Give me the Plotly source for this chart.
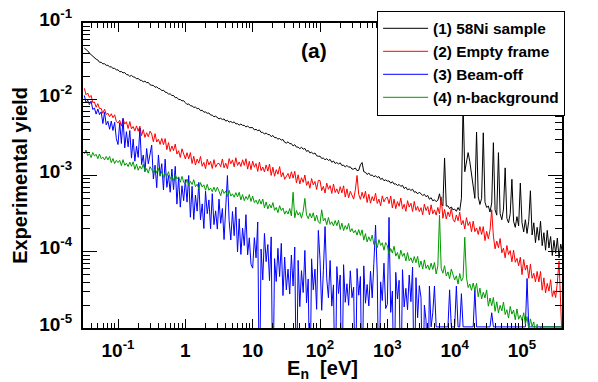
import numpy as np
import plotly.graph_objects as go

# energy bins, log10(E/eV), 0.025 decade wide (285 bins from 10^-1.5 to 10^5.6)
log_e = np.round(np.arange(-1.5, 5.6001, 0.025), 3)

# log10 of the experimental yield, one row per half decade
FLOOR = -4.985  # counts sitting on the 1e-5 axis floor
black_log = [
    -1.33, -1.345, -1.365, -1.395, -1.415, -1.445, -1.455, -1.475, -1.485, -1.515,
    -1.515, -1.535, -1.535, -1.555, -1.555, -1.575, -1.575, -1.595, -1.595, -1.615,
    -1.614, -1.639, -1.637, -1.654, -1.65, -1.677, -1.679, -1.70, -1.687, -1.707,
    -1.71, -1.733, -1.726, -1.75, -1.753, -1.771, -1.763, -1.783, -1.78, -1.809,
    -1.817, -1.819, -1.843, -1.837, -1.858, -1.863, -1.887, -1.881, -1.907, -1.912,
    -1.931, -1.93, -1.951, -1.95, -1.98, -1.977, -2.003, -2.003, -2.021, -2.019,
    -2.045, -2.068, -2.061, -2.085, -2.088, -2.106, -2.103, -2.123, -2.12, -2.149,
    -2.144, -2.169, -2.167, -2.184, -2.18, -2.207, -2.209, -2.23, -2.222, -2.242,
    -2.257, -2.249, -2.267, -2.258, -2.287, -2.276, -2.30, -2.292, -2.307, -2.297,
    -2.323, -2.321, -2.34, -2.325, -2.343, -2.342, -2.364, -2.35, -2.373, -2.372,
    -2.372, -2.402, -2.394, -2.413, -2.402, -2.435, -2.433, -2.457, -2.441, -2.464,
    -2.463, -2.49, -2.475, -2.504, -2.503, -2.523, -2.514, -2.537, -2.528, -2.564,
    -2.575, -2.558, -2.583, -2.582, -2.612, -2.596, -2.628, -2.627, -2.649, -2.629,
    -2.655, -2.645, -2.684, -2.671, -2.704, -2.695, -2.716, -2.705, -2.741, -2.748,
    -2.746, -2.776, -2.772, -2.793, -2.779, -2.803, -2.789, -2.827, -2.81, -2.842,
    -2.83, -2.849, -2.834, -2.869, -2.863, -2.889, -2.867, -2.891, -2.887, -2.916,
    -2.916, -2.902, -2.937, -2.932, -2.86, -2.83, -2.95, -2.958, -2.987, -2.968,
    -2.998, -2.995, -3.016, -3.003, -3.027, -3.014, -3.052, -3.036, -3.068, -3.057,
    -3.074, -3.07, -3.101, -3.08, -3.113, -3.109, -3.132, -3.117, -3.143, -3.129,
    -3.171, -3.153, -3.188, -3.176, -3.196, -3.18, -3.219, -3.213, -3.241, -3.218,
    -3.236, -3.263, -3.247, -3.278, -3.262, -3.311, -3.291, -3.332, -3.318, -3.343,
    -3.325, -3.24, -3.364, -3.397, -2.77, -3.402, -3.398, -3.435, -3.411, -3.45,
    -3.44, -3.47, -3.42, -3.46, -3.30, -2.05, -2.95, -2.80, -2.70, -2.82,
    -3.00, -3.18, -3.30, -2.43, -3.28, -3.38, -3.30, -2.44, -3.35, -3.42,
    -3.40, -3.48, -3.36, -2.57, -3.45, -3.52, -2.70, -3.50, -3.58, -3.44,
    -2.90, -3.56, -3.62, -3.50, -3.05, -3.60, -3.68, -3.54, -3.66, -3.10,
    -3.62, -3.74, -3.58, -3.76, -3.60, -3.20, -3.78, -3.62, -3.88, -3.68,
    -3.85, -3.60, -3.92, -3.75, -3.98, -3.72, -3.95, -3.80, -4.05, -3.85,
    -4.02, -3.82, -4.08, -3.90, -4.00,
]
red_log = [
    -1.856, -1.941, -1.918, -1.976, -1.95, -2.043, -2.036, -2.105, -2.058, -2.123,
    -2.12, -2.185, -2.13, -2.199, -2.184, -2.229, -2.19, -2.243, -2.204, -2.293,
    -2.312, -2.275, -2.352, -2.255, -2.326, -2.295, -2.384, -2.293, -2.388, -2.357,
    -2.416, -2.349, -2.42, -2.353, -2.478, -2.399, -2.50, -2.439, -2.492, -2.419,
    -2.455, -2.558, -2.451, -2.561, -2.524, -2.592, -2.513, -2.595, -2.516, -2.661,
    -2.568, -2.685, -2.613, -2.674, -2.588, -2.719, -2.675, -2.764, -2.65, -2.732,
    -2.782, -2.701, -2.781, -2.70, -2.843, -2.748, -2.863, -2.784, -2.838, -2.75,
    -2.879, -2.828, -2.91, -2.787, -2.86, -2.814, -2.908, -2.792, -2.892, -2.846,
    -2.839, -2.885, -2.783, -2.899, -2.838, -2.91, -2.779, -2.846, -2.795, -2.886,
    -2.767, -2.868, -2.822, -2.882, -2.794, -2.867, -2.78, -2.916, -2.814, -2.923,
    -2.81, -2.891, -2.843, -2.947, -2.824, -2.936, -2.888, -2.954, -2.861, -2.943,
    -2.85, -2.999, -2.891, -3.01, -2.924, -2.983, -2.883, -3.017, -2.961, -3.05,
    -3.018, -2.973, -3.041, -2.951, -3.035, -2.945, -3.096, -2.991, -3.112, -3.029,
    -3.09, -2.993, -3.129, -3.076, -3.167, -3.04, -3.123, -3.078, -3.184, -3.064,
    -3.065, -3.198, -3.142, -3.23, -3.10, -3.18, -3.132, -3.235, -3.112, -3.223,
    -3.175, -3.24, -3.147, -3.228, -3.135, -3.283, -3.175, -3.293, -3.207, -3.265,
    -3.31, -3.187, -3.00, -3.249, -3.313, -3.22, -3.30, -3.207, -3.354, -3.246,
    -3.363, -3.277, -3.334, -3.234, -3.366, -3.31, -3.397, -3.267, -3.346, -3.298,
    -3.284, -3.369, -3.269, -3.426, -3.31, -3.435, -3.343, -3.404, -3.296, -3.437,
    -3.377, -3.47, -3.33, -3.415, -3.363, -3.472, -3.34, -3.457, -3.405, -3.474,
    -3.422, -3.515, -3.375, -3.46, -3.408, -3.517, -3.385, -3.502, -3.45, -3.519,
    -3.419, -3.504, -3.28, -3.561, -3.445, -3.57, -3.478, -3.539, -3.431, -3.572,
    -3.611, -3.517, -3.593, -3.481, -3.647, -3.589, -3.701, -3.553, -3.656, -3.607,
    -3.737, -3.598, -3.737, -3.688, -3.773, -3.67, -3.773, -3.67, -3.854, -3.733,
    -3.83, -3.718, -3.45, -3.794, -3.962, -3.86, -3.948, -3.826, -4.014, -3.952,
    -4.08, -3.918, -4.036, -3.984, -4.132, -3.98, -4.138, -4.086, -4.184, -4.072,
    -4.30, -4.102, -4.24, -4.174, -4.348, -4.162, -4.348, -4.282, -4.396, -4.258,
    -4.396, -4.258, -4.504, -4.342, -4.54, -4.414, -4.516, -4.366, -4.588, -4.51,
    -4.60, -4.40, -4.12, -4.70, -5.30,
]
blue_log = [
    -1.95, -2.049, -2.012, -2.071, -2.024, -2.133, -2.116, -2.195, -2.128, -2.202,
    -2.165, -2.319, -2.172, -2.336, -2.289, -2.393, -2.286, -2.41, -2.303, -2.517,
    -2.594, -2.308, -2.58, -2.25, -2.638, -2.424, -2.624, -2.41, -2.772, -2.522,
    -2.812, -2.616, -2.762, -2.38, -2.856, -2.732, -2.95, -2.646, -2.846, -2.74,
    -2.60, -3.045, -2.865, -3.16, -2.73, -3.00, -2.845, -3.19, -2.785, -3.155,
    -3.00, -3.22, -2.915, -3.185, -2.88, -3.375, -3.02, -3.415, -3.135, -3.33,
    -3.054, -3.349, -3.00, -3.547, -3.142, -3.577, -3.256, -3.467, -3.09, -3.581,
    -3.372, -3.695, -3.206, -3.501, -3.32, -3.699, -3.238, -3.645, -3.464, -3.703,
    -3.31, -3.627, -3.433, -3.84, -3.346, -3.00, -3.589, -3.846, -3.472, -3.789,
    -3.415, -4.002, -3.568, -4.035, -3.691, -3.918, -3.514, -4.041, -3.817, -4.164,
    -4.215, -3.815, -4.08, -3.61, -6.0, -3.965, -4.37, -3.76, -4.13, -3.905,
    -4.38, -3.805, -6.0, -4.09, -4.39, -3.955, -4.325, -3.89, -4.575, -4.07,
    -4.50, -4.228, -4.555, -4.043, -4.45, -3.938, -6.0, -4.113, -4.72, -4.248,
    -4.535, -3.983, -4.67, -4.358, -6.0, -4.093, -4.50, -4.228, -4.755, -3.72,
    -4.10, -4.768, -4.245, -3.67, -4.355, -4.603, -4.115, -4.713, -4.435, -6.0,
    -4.195, -4.548, -4.305, -6.0, -4.17, -4.663, -4.42, -4.703, -4.25, -4.603,
    -4.465, -6.0, -4.22, -4.57, -4.325, -6.0, -4.185, -4.675, -4.43, -4.71,
    -4.255, -4.605, -4.15, -3.65, -4.29, -6.0, -4.395, -4.64, -4.15, -4.745,
    -4.69, -3.55, -4.795, -4.515, -6.0, -4.27, -4.62, -4.375, -6.0, -4.235,
    -4.725, -4.48, -4.76, -4.305, -4.655, -4.20, -6.0, -4.34, -4.865, -4.445,
    -4.60, -6.0, -4.70, -4.90, -6.0, -4.45, FLOOR, -4.80, -4.45, FLOOR,
    FLOOR, FLOOR, FLOOR, FLOOR, FLOOR, FLOOR, FLOOR, -4.50, FLOOR, FLOOR,
    FLOOR, -4.45, FLOOR, FLOOR, -4.55, FLOOR, FLOOR, FLOOR, FLOOR, FLOOR,
    FLOOR, FLOOR, -4.50, FLOOR, FLOOR, FLOOR, FLOOR, FLOOR, FLOOR, FLOOR,
    FLOOR, FLOOR, -4.80, FLOOR, FLOOR, FLOOR, FLOOR, FLOOR, FLOOR, FLOOR,
    FLOOR, FLOOR, FLOOR, FLOOR, FLOOR, FLOOR, FLOOR, FLOOR, FLOOR, FLOOR,
    FLOOR, FLOOR, FLOOR, -4.35, FLOOR, FLOOR, FLOOR, FLOOR, FLOOR, FLOOR,
    FLOOR, FLOOR, FLOOR, FLOOR, FLOOR, FLOOR, FLOOR, FLOOR, FLOOR, FLOOR,
    FLOOR, FLOOR, FLOOR, FLOOR, FLOOR,
]
green_log = [
    -2.716, -2.666, -2.74, -2.714, -2.764, -2.698, -2.744, -2.722, -2.78, -2.718,
    -2.78, -2.758, -2.796, -2.75, -2.796, -2.75, -2.832, -2.778, -2.844, -2.802,
    -2.83, -2.801, -2.871, -2.792, -2.867, -2.838, -2.883, -2.824, -2.879, -2.82,
    -2.92, -2.851, -2.931, -2.877, -2.917, -2.853, -2.943, -2.909, -2.969, -2.885,
    -2.92, -2.967, -2.909, -2.966, -2.908, -3.01, -2.942, -3.024, -2.971, -3.013,
    -2.95, -3.042, -3.009, -3.071, -2.988, -3.045, -3.017, -3.089, -3.011, -3.088,
    -3.115, -3.047, -3.129, -3.076, -3.118, -3.055, -3.147, -3.114, -3.176, -3.093,
    -3.15, -3.122, -3.194, -3.116, -3.193, -3.165, -3.212, -3.154, -3.211, -3.153,
    -3.205, -3.265, -3.18, -3.235, -3.205, -3.275, -3.195, -3.27, -3.24, -3.285,
    -3.225, -3.28, -3.22, -3.32, -3.25, -3.33, -3.275, -3.315, -3.25, -3.34,
    -3.27, -3.356, -3.324, -3.376, -3.311, -3.375, -3.31, -3.423, -3.347, -3.438,
    -3.378, -3.425, -3.355, -3.457, -3.419, -3.488, -3.396, -3.459, -3.427, -3.507,
    -3.463, -3.506, -3.433, -3.531, -3.22, -3.555, -3.46, -3.519, -3.484, -3.56,
    -3.47, -3.30, -3.517, -3.565, -3.497, -3.557, -3.489, -3.598, -3.519, -3.606,
    -3.63, -3.45, -3.596, -3.561, -3.646, -3.551, -3.642, -3.607, -3.662, -3.591,
    -3.658, -3.587, -3.708, -3.625, -3.722, -3.657, -3.706, -3.629, -3.738, -3.697,
    -3.753, -3.719, -3.782, -3.709, -3.786, -3.713, -3.848, -3.762, -3.871, -3.804,
    -3.861, -3.782, -3.904, -3.863, -3.946, -3.841, -3.917, -3.883, -3.979, -3.88,
    -3.918, -4.033, -3.958, -4.017, -3.928, -4.057, -4.01, -4.097, -3.98, -4.06,
    -4.02, -4.121, -4.011, -4.119, -4.079, -4.145, -4.063, -4.143, -4.061, -4.204,
    -4.122, -4.227, -4.106, -4.219, -4.173, -4.24, -4.149, -4.232, -4.141, -4.291,
    -4.185, -3.52, -4.221, -4.281, -4.183, -4.318, -4.264, -4.354, -4.226, -4.308,
    -4.37, -4.316, -4.424, -4.286, -4.385, -4.34, -3.81, -4.335, -4.469, -4.424,
    -4.506, -4.41, -4.51, -4.414, -4.59, -4.477, -4.619, -4.531, -4.605, -4.501,
    -4.714, -4.607, -4.707, -4.60, -4.781, -4.656, -4.801, -4.703, -4.776, -4.66,
    -4.823, -4.761, -4.87, -4.718, -4.818, -4.765, -4.892, -4.749, -4.885, -4.832,
    -4.90, -4.80, -4.95, -4.85, -5.02, -4.88, -4.98, -4.92, -5.10, -4.95,
    -5.20, FLOOR, FLOOR, FLOOR, FLOOR, FLOOR, FLOOR, FLOOR, FLOOR, FLOOR,
    FLOOR, FLOOR, FLOOR, FLOOR, FLOOR,
]

series = [
    ("(1) 58Ni sample", black_log, "#000000"),
    ("(2) Empty frame", red_log, "#ff0000"),
    ("(3) Beam-off", blue_log, "#0000ff"),
    ("(4) n-background", green_log, "#009a00"),
]
for name, vals, _ in series:
    if len(vals) != len(log_e):
        raise ValueError(f"{name}: {len(vals)} values for {len(log_e)} bins")

energy = 10 ** log_e
FONT = "Liberation Sans, Arial, sans-serif"

fig = go.Figure()
for name, vals, color in series:
    fig.add_trace(go.Scatter(
        x=energy, y=10 ** np.array(vals), name=name, mode="lines",
        line=dict(color=color, width=1),
    ))

x_ticks = [0.1, 1, 10, 100, 1e3, 1e4, 1e5]
x_text = ["10<sup>-1</sup>", "1", "10", "10<sup>2</sup>", "10<sup>3</sup>",
          "10<sup>4</sup>", "10<sup>5</sup>"]
y_ticks = [1e-5, 1e-4, 1e-3, 1e-2, 1e-1]
y_text = ["10<sup>-5</sup>", "10<sup>-4</sup>", "10<sup>-3</sup>",
          "10<sup>-2</sup>", "10<sup>-1</sup>"]

fig.update_xaxes(
    type="log", range=[-1.52, 5.594],
    tickmode="array", tickvals=x_ticks, ticktext=x_text,
    ticks="inside", ticklen=9, tickwidth=1, tickcolor="black",
    minor=dict(ticks="inside", ticklen=5, tickwidth=1, tickcolor="black", dtick="D1"),
    showline=True, linecolor="black", linewidth=2, mirror="ticks",
    showgrid=False, zeroline=False, ticklabelstandoff=4,
    tickfont=dict(family=FONT, size=19, color="black", weight="bold"),
    title=dict(text="E<sub>n</sub>  [eV]", standoff=1,
               font=dict(family=FONT, size=20, color="black", weight="bold")),
)
fig.update_yaxes(
    type="log", range=[-5, -1],
    tickmode="array", tickvals=y_ticks, ticktext=y_text,
    ticks="inside", ticklen=14, tickwidth=1, tickcolor="black",
    minor=dict(ticks="inside", ticklen=7, tickwidth=1, tickcolor="black", dtick="D1"),
    showline=True, linecolor="black", linewidth=2, mirror="ticks",
    showgrid=False, zeroline=False, ticklabelstandoff=5, ticklabelshift=-4,
    tickfont=dict(family=FONT, size=19, color="black", weight="bold"),
    title=dict(text="Experimental yield", standoff=6,
               font=dict(family=FONT, size=20, color="black", weight="bold")),
)

fig.add_annotation(
    text="(a)", x=0.482, y=0.911, xref="paper", yref="paper", showarrow=False,
    xanchor="center", yanchor="middle",
    font=dict(family=FONT, size=21, color="black", weight="bold"),
)

fig.update_layout(
    width=598, height=382,
    margin=dict(l=83, r=36, t=23, b=54, autoexpand=False),
    paper_bgcolor="white", plot_bgcolor="white",
    legend=dict(
        x=0.614, y=1.04, xanchor="left", yanchor="top",
        bgcolor="white", bordercolor="black", borderwidth=1,
        font=dict(family=FONT, size=15.385, color="black", weight="bold"),
        tracegroupgap=0, itemwidth=45,
    ),
)

fig.write_html("out.html", config={"displayModeBar": False},
               post_script="document.body.style.margin='0px';")
